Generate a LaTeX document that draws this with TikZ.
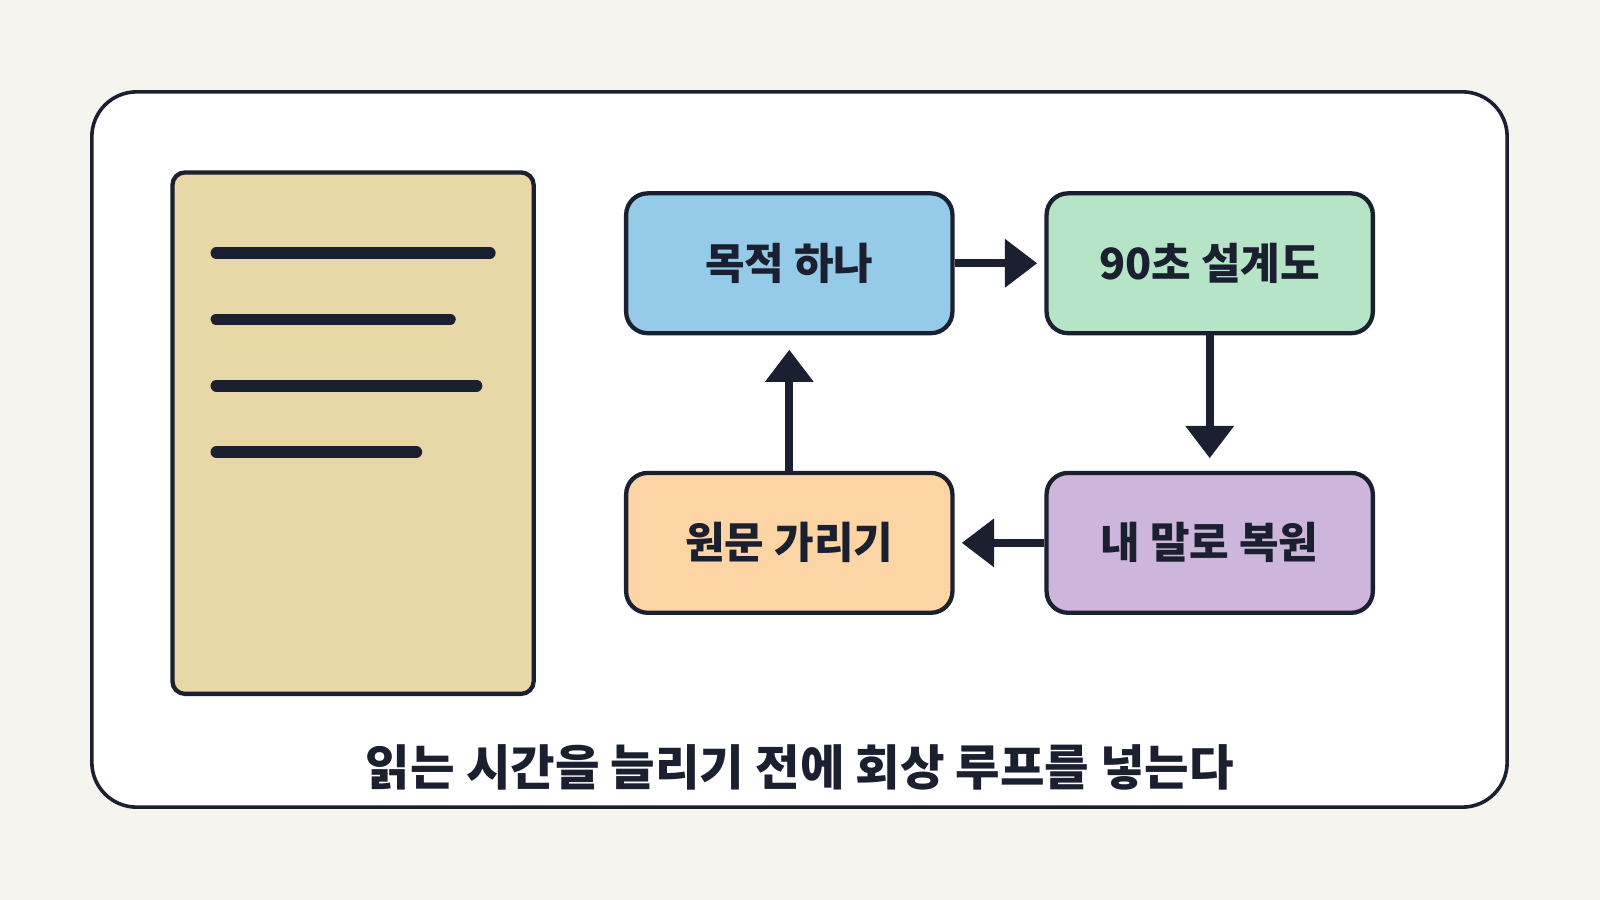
\documentclass[tikz,border=0pt]{standalone}
\usepackage{fontspec}
\setmainfont{Noto Sans CJK KR}
\usetikzlibrary{arrows.meta}
\definecolor{ink}{HTML}{1A2030}
\definecolor{bg}{HTML}{F5F4EE}
\definecolor{doc}{HTML}{E8D8A8}
\definecolor{cA}{HTML}{95CBE8}
\definecolor{cB}{HTML}{B5E4C6}
\definecolor{cC}{HTML}{FDD5A5}
\definecolor{cD}{HTML}{CDB5DC}
\begin{document}
\begin{tikzpicture}[x=0.02cm,y=-0.02cm,
  box/.style={draw=ink,line width=2.4pt,rounded corners=12pt,minimum width=182pt,minimum height=78pt},
  lbl/.style={font=\bfseries\fontsize{24}{28}\selectfont,text=ink},
  ln/.style={draw=ink,line width=6.5pt,line cap=round},
  arr/.style={draw=ink,line width=4.5pt,-{Triangle[length=18pt,width=26pt]}}]
\fill[bg] (0,0) rectangle (1568,882);
\useasboundingbox (0,0) rectangle (1568,882);
\draw[ink,fill=white,line width=2pt,rounded corners=25pt] (90,90) rectangle (1477,791);
\draw[draw=ink,line width=2.4pt,fill=doc,rounded corners=7pt] (169,169) rectangle (523,680);
\draw[ln] (212,248) -- (480,248);
\draw[ln] (212,313) -- (441,313);
\draw[ln] (212,378) -- (467,378);
\draw[ln] (212,443) -- (408,443);
\node[box,fill=cA] (a) at (773.5,258) {};
\node[box,fill=cB] (b) at (1185.5,258) {};
\node[box,fill=cC] (c) at (773.5,532) {};
\node[box,fill=cD] (d) at (1185.5,532) {};
\node[lbl] at (a) {목적 하나};
\node[lbl] at (b) {90초 설계도};
\node[lbl] at (c) {원문 가리기};
\node[lbl] at (d) {내 말로 복원};
\draw[arr] (a.east) -- ([xshift=-4pt]b.west);
\draw[arr] (b.south) -- ([yshift=7pt]d.north);
\draw[arr] (d.west) -- ([xshift=4pt]c.east);
\draw[arr] (c.north) -- ([yshift=-8pt]a.south);
\node[font=\bfseries\fontsize{27}{32}\selectfont,text=ink] (cap) at (784,752) {읽는 시간을 늘리기 전에 회상 루프를 넣는다};
\end{tikzpicture}
\end{document}
